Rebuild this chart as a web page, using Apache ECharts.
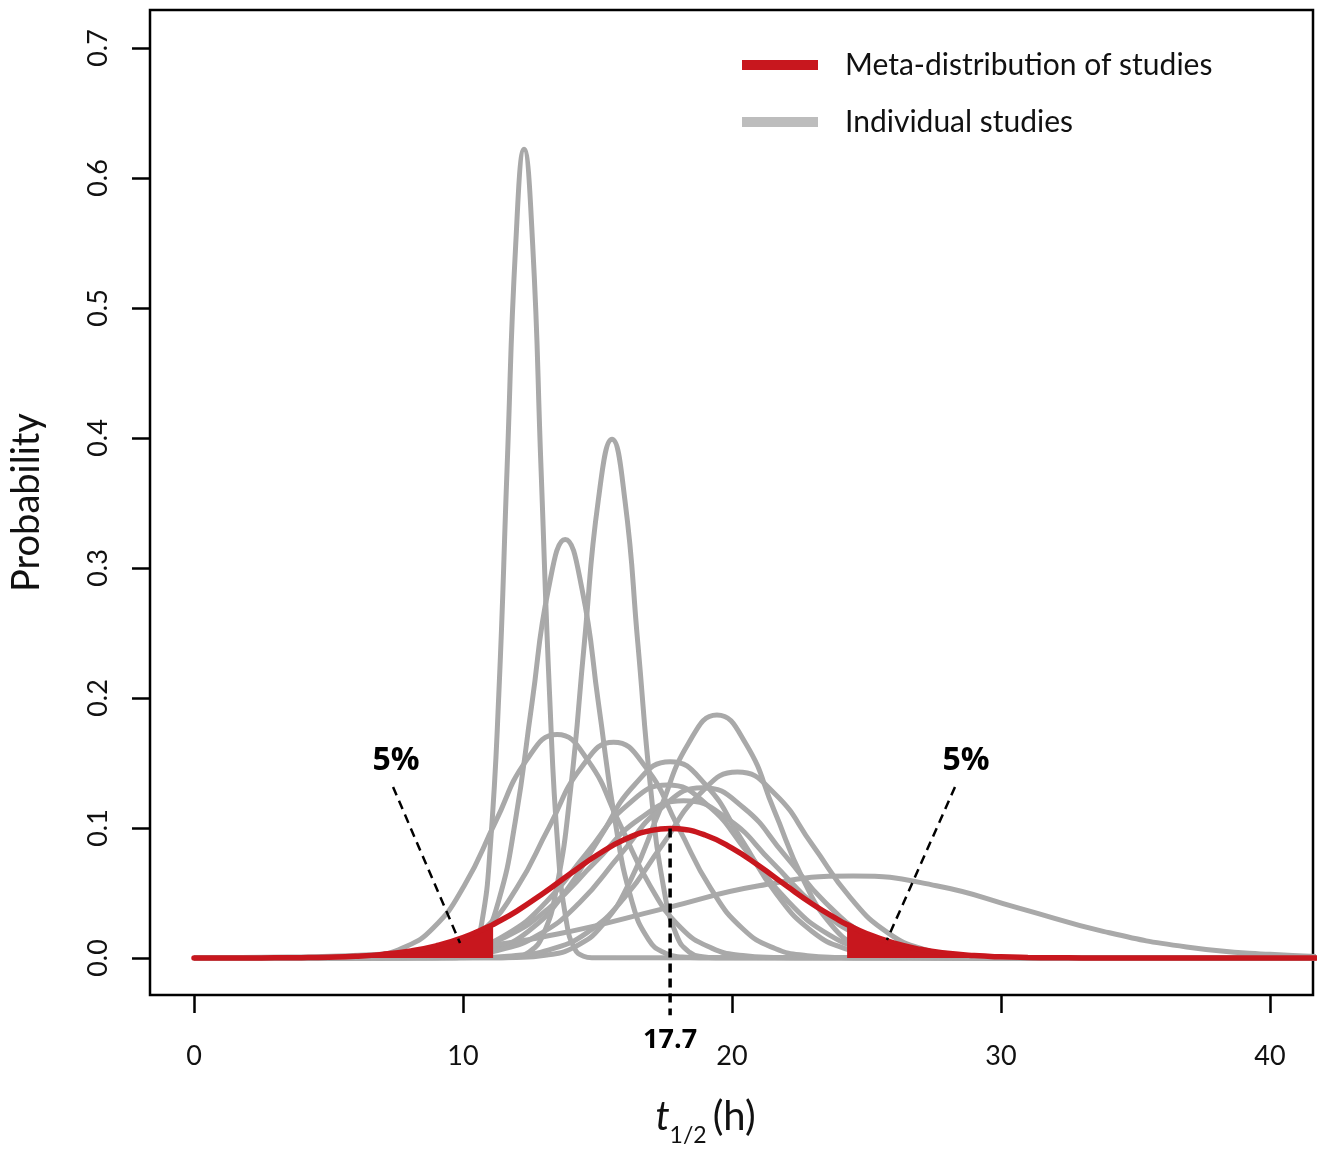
<!DOCTYPE html>
<html>
<head>
<meta charset="utf-8">
<script src="https://cdn.jsdelivr.net/npm/echarts@6/dist/echarts.min.js"></script>
<style>
  html, body { margin: 0; padding: 0; background: #fff; }
  #chart { width: 1324px; height: 1153px; }
</style>
</head>
<body>
<div id="chart"></div>
<script>
// density curves, [t1/2 (h), probability]
const study1 = [[0,0],[9.75,0.0002],[10.07,0.0014],[10.38,0.0069],[10.70,0.0273],[11.01,0.0842],[11.33,0.2020],[11.64,0.3772],[11.96,0.5489],[12.27,0.622],[12.59,0.5489],[12.90,0.3772],[13.22,0.2020],[13.53,0.0842],[13.85,0.0273],[14.16,0.0069],[14.48,0.0014],[14.79,0.0002],[42,0]];
const study2 = [[0,0],[11.42,0.0001],[11.94,0.0009],[12.45,0.0044],[12.97,0.0175],[13.48,0.0540],[14.00,0.1296],[14.51,0.2420],[15.03,0.3521],[15.54,0.399],[16.02,0.3521],[16.50,0.2420],[16.98,0.1296],[17.46,0.0540],[17.94,0.0175],[18.42,0.0044],[18.90,0.0009],[19.38,0.0001],[42,0]];
const study3 = [[0,0],[8.84,0.0001],[9.46,0.0007],[10.08,0.0036],[10.70,0.0141],[11.32,0.0436],[11.94,0.1046],[12.56,0.1953],[13.18,0.2842],[13.80,0.322],[14.42,0.2842],[15.04,0.1953],[15.66,0.1046],[16.28,0.0436],[16.90,0.0141],[17.52,0.0036],[18.14,0.0007],[18.76,0.0001],[42,0]];
const study4 = [[0,0],[4.30,0.0001],[5.45,0.0004],[6.60,0.0019],[7.75,0.0076],[8.90,0.0233],[10.05,0.0558],[11.20,0.1043],[12.35,0.1518],[13.50,0.172],[14.65,0.1518],[15.80,0.1043],[16.95,0.0558],[18.10,0.0233],[19.25,0.0076],[20.40,0.0019],[21.55,0.0004],[22.70,0.0001],[42,0]];
const study5 = [[0,0],[6.0,0.0000],[7.2,0.0004],[8.4,0.0018],[9.6,0.0073],[10.8,0.0225],[12.0,0.0539],[13.2,0.1007],[14.4,0.1465],[15.6,0.166],[16.8,0.1465],[18.0,0.1007],[19.2,0.0539],[20.4,0.0225],[21.6,0.0073],[22.8,0.0018],[24.0,0.0004],[25.2,0.0000],[42,0]];
const study6 = [[0,0],[7.14,0.0000],[8.46,0.0003],[9.78,0.0017],[11.10,0.0066],[12.42,0.0204],[13.74,0.0490],[15.06,0.0916],[16.38,0.1333],[17.70,0.151],[19.02,0.1333],[20.34,0.0916],[21.66,0.0490],[22.98,0.0204],[24.30,0.0066],[25.62,0.0017],[26.94,0.0003],[28.26,0.0000],[42,0]];
const study7 = [[0,0],[10.92,0.0001],[11.99,0.0004],[13.05,0.0021],[14.12,0.0082],[15.18,0.0253],[16.25,0.0607],[17.31,0.1134],[18.38,0.1650],[19.44,0.187],[20.51,0.1650],[21.57,0.1134],[22.64,0.0607],[23.70,0.0253],[24.77,0.0082],[25.83,0.0021],[26.90,0.0004],[27.96,0.0001],[42,0]];
const study8 = [[0,0],[9.0,0.0000],[10.4,0.0003],[11.8,0.0016],[13.2,0.0063],[14.6,0.0193],[16.0,0.0464],[17.4,0.0867],[18.8,0.1262],[20.2,0.143],[21.6,0.1262],[23.0,0.0867],[24.4,0.0464],[25.8,0.0193],[27.2,0.0063],[28.6,0.0016],[30.0,0.0003],[31.4,0.0000],[42,0]];
const study9 = [[0,0],[5.6,0.0000],[7.1,0.0003],[8.6,0.0015],[10.1,0.0058],[11.6,0.0180],[13.1,0.0432],[14.6,0.0807],[16.1,0.1174],[17.6,0.133],[19.1,0.1174],[20.6,0.0807],[22.1,0.0432],[23.6,0.0180],[25.1,0.0058],[26.6,0.0015],[28.1,0.0003],[29.6,0.0000],[42,0]];
const study10 = [[0,0],[6.70,0.0000],[8.23,0.0003],[9.75,0.0015],[11.28,0.0058],[12.80,0.0177],[14.33,0.0425],[15.85,0.0795],[17.38,0.1156],[18.90,0.131],[20.43,0.1156],[21.95,0.0795],[23.48,0.0425],[25.00,0.0177],[26.53,0.0058],[28.05,0.0015],[29.58,0.0003],[31.10,0.0000],[42,0]];
const study11 = [[0,0],[5.00,0.0000],[6.65,0.0003],[8.30,0.0013],[9.95,0.0053],[11.60,0.0164],[13.25,0.0393],[14.90,0.0734],[16.55,0.1068],[18.20,0.121],[19.85,0.1068],[21.50,0.0734],[23.15,0.0393],[24.80,0.0164],[26.45,0.0053],[28.10,0.0013],[29.75,0.0003],[31.40,0.0000],[42,0]];
const study12 = [[0,0.0001],[3.5,0.0007],[7.0,0.0028],[10.5,0.0085],[14.0,0.0205],[17.5,0.0382],[21.0,0.0556],[24.5,0.063],[27.6,0.0556],[30.7,0.0382],[33.8,0.0205],[36.9,0.0085],[40.0,0.0028],[43.1,0.0007]];

// meta-distribution (mean 17.7 h), 5% cut points at 11.12 and 24.28
const meta = [[0,0.0000],[1,0.00002],[2,0.00005],[3,0.00012],[4,0.00028],[5,0.00065],[6,0.00138],[7,0.00279],[8,0.00527],[9,0.00937],[10,0.01564],[11,0.02452],[11.12,0.02577],[12,0.03612],[13,0.0500],[14,0.0650],[15,0.0794],[16,0.0911],[17,0.0982],[17.7,0.0997],[18,0.0994],[19,0.0946],[20,0.0845],[21,0.0709],[22,0.0559],[23,0.0414],[24,0.0288],[24.28,0.02577],[25,0.01885],[26,0.01158],[27,0.00668],[28,0.00362],[29,0.00184],[30,0.00088],[31,0.0004],[32,0.00017],[33,0.00007],[34,0],[42,0]];
const lowCut = 11.12;
const highCut = 24.28;
const metaMean = 17.7;

const xTicks = [0, 10, 20, 30, 40];
const yTicks = [0, 0.1, 0.2, 0.3, 0.4, 0.5, 0.6, 0.7];

const RED = '#c8171e';
const GRAY = '#a9a9a9';
const FONT = 'Lato, "Open Sans", sans-serif';
const BOLD_FONT = '"Open Sans", sans-serif';

var chart = echarts.init(document.getElementById('chart'));

var studies = [study1, study2, study3, study4, study5, study6, study7, study8, study9, study10, study11, study12];
var graySeries = studies.map(function (d) {
  return {
    name: 'Individual studies', type: 'line', data: d, smooth: 0.5,
    symbol: 'none', color: GRAY, lineStyle: { color: GRAY, width: 5 }, z: 2
  };
});

var dashed = function (pts, width) {
  return {
    type: 'line', data: pts, symbol: 'none', clip: false, z: 6,
    lineStyle: { color: '#000', width: width, type: [9, 6] }
  };
};
var textMark = function (pt, txt, size) {
  return {
    type: 'scatter', data: [pt], symbolSize: 1, clip: false, z: 7,
    itemStyle: { color: 'transparent', opacity: 1 },
    label: { show: true, position: 'inside', formatter: txt, color: '#000', opacity: 1,
      fontFamily: BOLD_FONT, fontWeight: 'bold', fontSize: size }
  };
};

var option = {
  animation: false,
  backgroundColor: '#fff',
  grid: { left: 150, right: 11, top: 10, bottom: 158, show: true,
    borderColor: '#000', borderWidth: 2.5, backgroundColor: 'transparent' },
  legend: {
    left: 742, top: 47, orient: 'vertical', padding: 0, itemGap: 21,
    itemWidth: 76, itemHeight: 10, icon: 'rect', selectedMode: false,
    textStyle: { fontFamily: FONT, fontSize: 30, color: '#111', lineHeight: 36, padding: [0, 0, 0, 22] },
    data: [
      { name: 'Meta-distribution of studies', itemStyle: { color: RED } },
      { name: 'Individual studies', itemStyle: { color: '#bdbdbd' } }
    ]
  },
  xAxis: {
    type: 'value', min: -1.636, max: 41.6,
    name: '{t|t}{s|1/2}{h|(h)}', nameLocation: 'middle', nameGap: 92,
    nameTextStyle: {
      padding: [0, 52, 0, 0],
      rich: {
        t: { fontFamily: FONT, fontStyle: 'italic', fontSize: 40, lineHeight: 60, color: '#111' },
        s: { fontFamily: FONT, fontSize: 23, lineHeight: 22, verticalAlign: 'bottom', color: '#111' },
        h: { fontFamily: FONT, fontSize: 40, lineHeight: 60, color: '#111', padding: [0, 0, 0, 6] }
      }
    },
    axisLine: { show: false, onZero: false },
    axisTick: { show: true, length: 18, customValues: xTicks, lineStyle: { color: '#000', width: 2.5 } },
    axisLabel: { customValues: xTicks, margin: 48, fontFamily: FONT, fontSize: 27, color: '#111' },
    splitLine: { show: false }
  },
  yAxis: {
    type: 'value', min: -0.02846, max: 0.7292,
    name: 'Probability', nameLocation: 'middle', nameGap: 104,
    nameTextStyle: { fontFamily: FONT, fontSize: 38, color: '#111' },
    axisLine: { show: false, onZero: false },
    axisTick: { show: true, length: 18, customValues: yTicks, lineStyle: { color: '#000', width: 2.5 } },
    axisLabel: { customValues: yTicks, rotate: 90, margin: 38, fontFamily: FONT, fontSize: 27, color: '#111',
      formatter: function (v) { return v.toFixed(1); } },
    splitLine: { show: false }
  },
  series: graySeries.concat([
    {
      type: 'line', data: meta.filter(function (p) { return p[0] <= lowCut; }), smooth: 0.5,
      symbol: 'none', lineStyle: { width: 0 }, areaStyle: { color: RED, opacity: 1 }, z: 3
    },
    {
      type: 'line', data: meta.filter(function (p) { return p[0] >= highCut; }), smooth: 0.5,
      symbol: 'none', lineStyle: { width: 0 }, areaStyle: { color: RED, opacity: 1 }, z: 3
    },
    {
      name: 'Meta-distribution of studies', type: 'line', data: meta, smooth: 0.5,
      symbol: 'none', color: RED, lineStyle: { color: RED, width: 5.5, cap: 'round' }, z: 4
    },
    dashed([[metaMean, 0.0997], [metaMean, -0.044]], 3.5),
    dashed([[7.40, 0.1315], [9.89, 0.0115]], 2.5),
    dashed([[28.29, 0.1315], [25.76, 0.0138]], 2.5),
    textMark([7.51, 0.152], '5%', 32),
    textMark([28.70, 0.152], '5%', 32),
    textMark([metaMean, -0.063], '17.7', 27)
  ])
};

chart.setOption(option);
</script>
</body>
</html>
